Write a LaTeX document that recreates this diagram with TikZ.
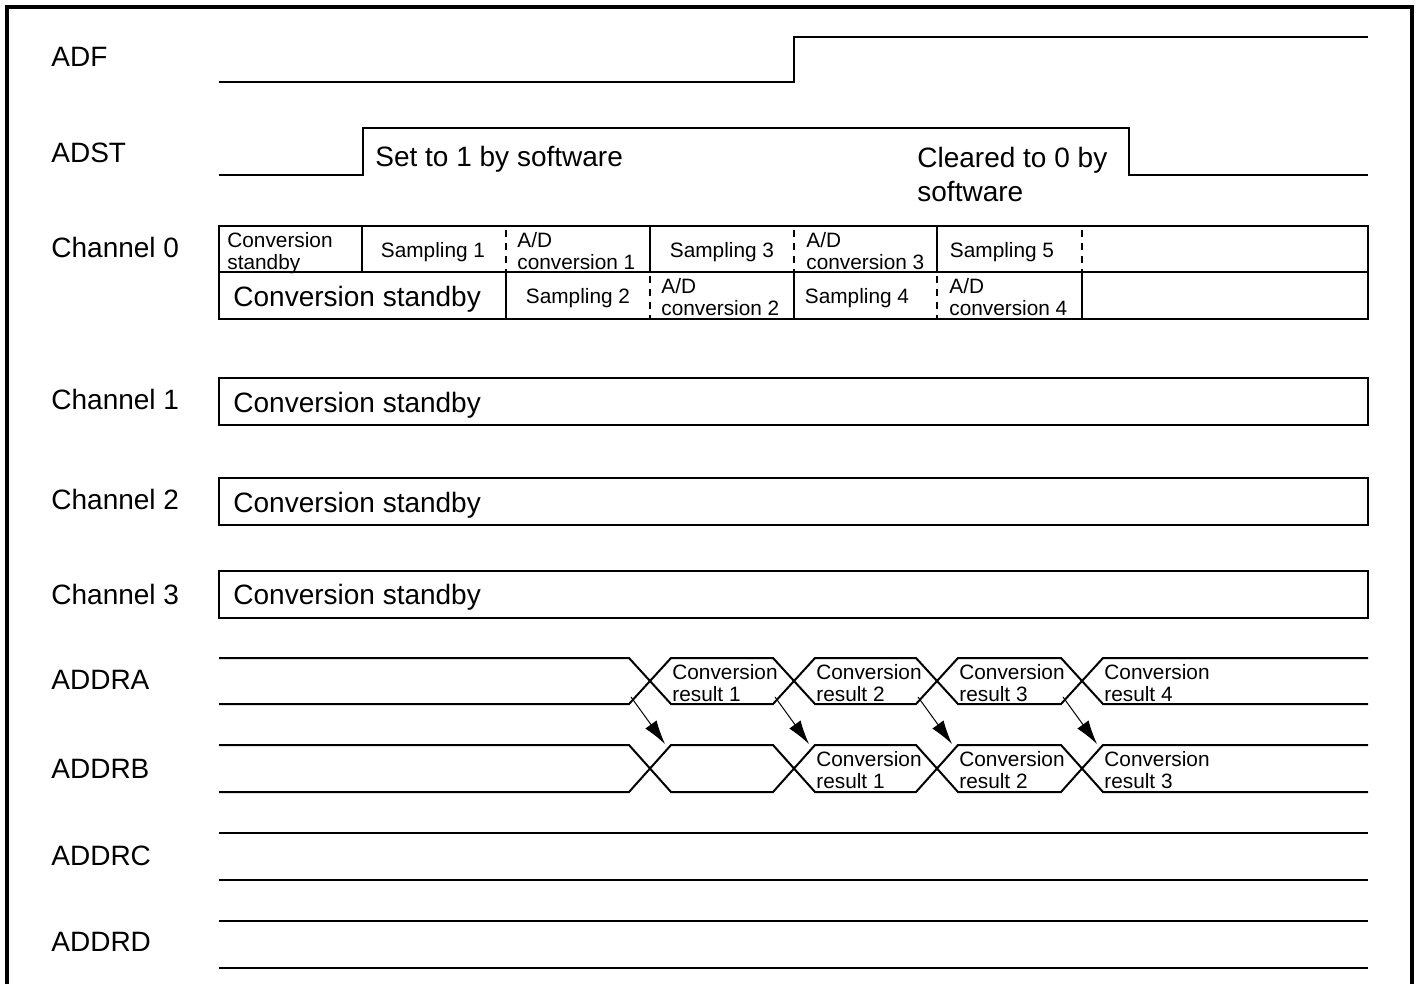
\documentclass[tikz,border=0pt]{standalone}
\usepackage{fontspec}
\setmainfont{Liberation Sans}
\usetikzlibrary{arrows.meta}

\begin{document}
\begin{tikzpicture}[
  x=0.5pt, y=-0.5pt,
  sig/.style={line width=1pt},
  cell/.style={draw, line width=0.7pt},
  dsh/.style={line width=0.7pt, dash pattern=on 3.5pt off 3pt},
  lbl/.style={
    anchor=base west,
    inner sep=0pt,
    font=\fontsize{14}{17}\selectfont
  },
  small/.style={
    anchor=north west,
    inner sep=0pt,
    align=left,
    font=\fontsize{10.4}{10.8}\selectfont
  },
  smp/.style={
    anchor=base,
    inner sep=0pt,
    font=\fontsize{10.4}{10.8}\selectfont
  },
  arr/.style={-{Latex[length=12pt,width=7pt]}, line width=0.5pt}
]
\useasboundingbox (0,0) rectangle (1417,984);
\draw[line width=2pt] (7,984) -- (7,7) -- (1412,7) -- (1412,984);

% Signal names
\node[lbl] (adf) at (51,67) {ADF};
\node[lbl] (adst) at (51,163) {ADST};
\node[lbl] (ch0) at (51,257) {Channel 0};
\node[lbl] (ch1) at (51,409) {Channel 1};
\node[lbl] (ch2) at (51,509) {Channel 2};
\node[lbl] (ch3) at (51,604) {Channel 3};
\node[lbl] (addra) at (51,689) {ADDRA};
\node[lbl] (addrb) at (51,778) {ADDRB};
\node[lbl] (addrc) at (51,865) {ADDRC};
\node[lbl] (addrd) at (51,951) {ADDRD};

% ADF and ADST
\draw[sig] (219,82) -- (794,82) -- (794,37) -- (1368,37);
\draw[sig] (219,175) -- (363,175) -- (363,128) -- (1129,128) -- (1129,175) -- (1368,175);
\node[lbl] (setsw) at (375,167) {Set to 1 by software};
\node[lbl, anchor=north west, align=left] (clrsw) at (917,147) {Cleared to 0 by\\software};

% Channel 0
\draw[cell] (219,226) rectangle (1368,319);
\draw[cell] (219,272) -- (1368,272);
\foreach \x in {362,650,937}
  \draw[line width=0.7pt] (\x,226) -- (\x,272);
\foreach \x in {506,794,1082}
  \draw[line width=0.7pt] (\x,272) -- (\x,319);
\foreach \x in {506,794,1082}
  \draw[dsh] (\x,230) -- (\x,272);
\foreach \x in {650,937}
  \draw[dsh] (\x,276) -- (\x,319);

\node[small] (stby0) at (227,232) {Conversion\\standby};
\node[smp] (smp1) at (433,257.5) {Sampling 1};
\node[small] (ad1) at (517,232.5) {A/D\\conversion 1};
\node[smp] (smp3) at (722,257.5) {Sampling 3};
\node[small] (ad3) at (806,232.5) {A/D\\conversion 3};
\node[smp] (smp5) at (1002,257.5) {Sampling 5};
\node[lbl] (stby0b) at (233,306) {Conversion standby};
\node[smp] (smp2) at (578,303.5) {Sampling 2};
\node[small] (ad2) at (661,278.5) {A/D\\conversion 2};
\node[smp] (smp4) at (857,303.5) {Sampling 4};
\node[small] (ad4) at (949,278.5) {A/D\\conversion 4};

% Channels 1 to 3
\draw[cell] (219,378) rectangle (1368,425);
\draw[cell] (219,478) rectangle (1368,525);
\draw[cell] (219,571) rectangle (1368,618);
\node[lbl] (stby1) at (233,412) {Conversion standby};
\node[lbl] (stby2) at (233,512) {Conversion standby};
\node[lbl] (stby3) at (233,604) {Conversion standby};

% ADDRA, ADDRB
\foreach \yt/\yb in {658/704,745/792}{
  \draw[sig] (219,\yt) -- (629,\yt) -- (671,\yb) -- (773,\yb) -- (815,\yt) -- (916,\yt)
    -- (958,\yb) -- (1061,\yb) -- (1103,\yt) -- (1368,\yt);
  \draw[sig] (219,\yb) -- (629,\yb) -- (671,\yt) -- (773,\yt) -- (815,\yb) -- (916,\yb)
    -- (958,\yt) -- (1061,\yt) -- (1103,\yb) -- (1368,\yb);
}
\foreach \x/\n in {650/1,794/2,937/3,1082/4}
  \node[small] (resa\n) at (\x+22,664.5) {Conversion\\result \n};
\foreach \x/\n in {794/1,937/2,1082/3}
  \node[small] (resb\n) at (\x+22,751.5) {Conversion\\result \n};

% ADDRC, ADDRD
\draw[sig] (219,833) -- (1368,833);
\draw[sig] (219,880) -- (1368,880);
\draw[sig] (219,921) -- (1368,921);
\draw[sig] (219,968) -- (1368,968);

% Arrows
\foreach \x [count=\i] in {650,794,937,1082}{
  \coordinate (src\i) at (\x-19,697);
  \coordinate (dst\i) at (\x+15,744);
  \draw[arr] (src\i) -- (dst\i);
}

\end{tikzpicture}
\end{document}
